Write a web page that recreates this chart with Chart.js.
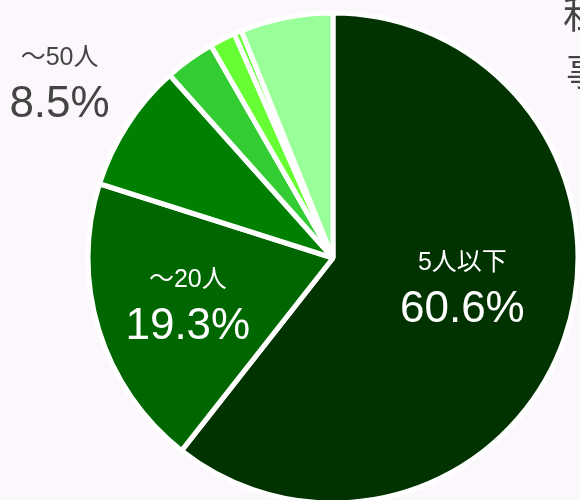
<!DOCTYPE html>
<html>
<head>
<meta charset="utf-8">
<script src="https://cdn.jsdelivr.net/npm/chart.js@4"></script>
<style>
  html, body { margin: 0; padding: 0; background: #fcf7fc; overflow: hidden; }
  canvas { display: block; }
</style>
</head>
<body>
<canvas id="pieChart" width="580" height="500"></canvas>
<script>
const categories = ['5人以下', '〜20人', '〜50人', '〜100人', '〜300人', '〜1000人', 'その他'];
const shares = [60.6, 19.3, 8.5, 3.3, 1.7, 0.5, 6.1];
const colors = ['#003300', '#006600', '#008000', '#33cc33', '#66ff33', '#66ff33', '#99ff99'];
const sideText = ['私', '事'];

// which slices get a label, how far out, and in what colour
const labelSpots = [
    { index: 0, r: 0.55, dx: 2, dy: -16, color: '#ffffff' },
    { index: 1, r: 0.62, dx: 0, dy: 0, color: '#ffffff' },
    { index: 2, r: 1.33, dx: 0, dy: 0, color: '#444444' }
];

const fontStack = "'Liberation Sans', Arial, 'Noto Sans CJK JP', sans-serif";

const sliceLabels = {
    id: 'sliceLabels',
    afterDatasetsDraw(chart) {
        const ctx = chart.ctx;
        const arcs = chart.getDatasetMeta(0).data;
        ctx.save();
        ctx.textAlign = 'center';
        ctx.textBaseline = 'middle';
        labelSpots.forEach(function (spot) {
            const arc = arcs[spot.index];
            const p = arc.getProps(['x', 'y', 'startAngle', 'endAngle', 'outerRadius'], true);
            const mid = (p.startAngle + p.endAngle) / 2;
            const x = p.x + Math.cos(mid) * p.outerRadius * spot.r + spot.dx;
            const y = p.y + Math.sin(mid) * p.outerRadius * spot.r + spot.dy;
            ctx.fillStyle = spot.color;
            ctx.font = '25px ' + fontStack;
            ctx.fillText(categories[spot.index], x, y - 23);
            ctx.font = '44px ' + fontStack;
            ctx.fillText(shares[spot.index].toFixed(1) + '%', x, y + 24);
        });
        // text from the panel on the right, cut off by the edge
        ctx.textAlign = 'left';
        ctx.fillStyle = '#444444';
        ctx.font = '38px ' + fontStack;
        ctx.fillText(sideText[0], 563, 18);
        ctx.fillText(sideText[1], 566, 75);
        ctx.restore();
    }
};

new Chart(document.getElementById('pieChart').getContext('2d'), {
    type: 'pie',
    data: {
        labels: categories,
        datasets: [{
            data: shares,
            backgroundColor: colors,
            borderColor: '#ffffff',
            borderWidth: 5
        }]
    },
    options: {
        responsive: false,
        animation: false,
        radius: 245,
        layout: { padding: { left: 86, right: 0, top: 16, bottom: 0 } },
        plugins: {
            legend: { display: false },
            tooltip: { enabled: false }
        }
    },
    plugins: [sliceLabels]
});
</script>
</body>
</html>
